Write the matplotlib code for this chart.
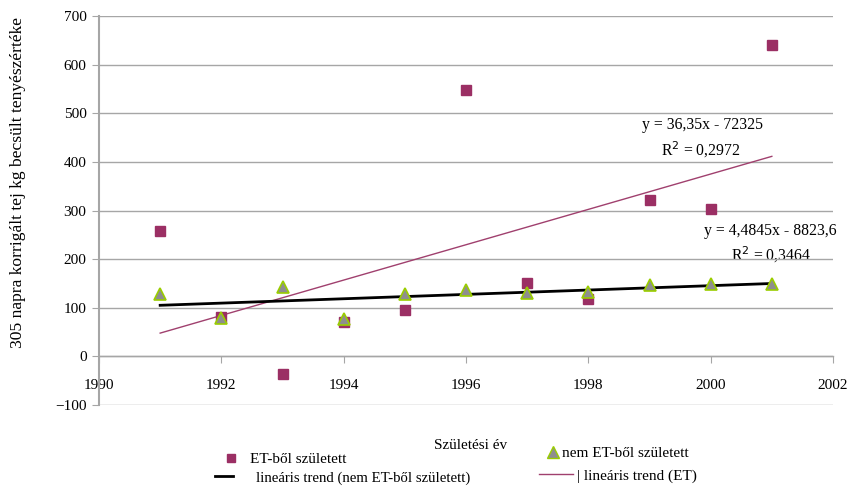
import matplotlib
matplotlib.use("Agg")
import matplotlib.pyplot as plt
from matplotlib.lines import Line2D
from matplotlib.transforms import Bbox
import numpy as np

plt.rcParams['font.family'] = ['Liberation Serif', 'DejaVu Serif']

years = [1991, 1992, 1993, 1994, 1995, 1996, 1997, 1998, 1999, 2000, 2001]
et_values = [257, 80, -37, 70, 95, 548, 150, 119, 321, 303, 640]
non_et_values = [128, 78, 142, 76, 128, 136, 130, 132, 146, 148, 149]

# trend equations (slope, intercept)
et_trend = (36.35, -72325)
non_et_trend = (4.4845, -8823.6)
et_eq = "y = 36,35x - 72325"
et_r2 = "R$^2$ = 0,2972"
non_et_eq = "y = 4,4845x - 8823,6"
non_et_r2 = "R$^2$ = 0,3464"

x_ticks = [1990, 1992, 1994, 1996, 1998, 2000, 2002]
y_ticks = [-100, 0, 100, 200, 300, 400, 500, 600, 700]

sq_color = "#9B2F64"
tri_face = "#8E8E8E"
tri_edge = "#9ACD00"
et_line_color = "#A0406E"
grid_color = "#A6A6A6"

W, H = 849, 486
fig = plt.figure(figsize=(W / 100, H / 100), dpi=100)
ax = fig.add_axes([99 / W, 81 / H, 734 / W, 389 / H])

ax.set_xlim(1990, 2002)
ax.set_ylim(-100, 700)
ax.set_xticks(x_ticks)
ax.set_yticks(y_ticks)

ax.grid(axis='y', color=grid_color, linewidth=1)
ax.set_axisbelow(True)

for s in ['top', 'right']:
    ax.spines[s].set_visible(False)
ax.spines['left'].set_color(grid_color)
ax.spines['left'].set_linewidth(1.5)
ax.spines['bottom'].set_position(('data', 0))
ax.spines['bottom'].set_color(grid_color)
ax.spines['bottom'].set_linewidth(1)

ax.tick_params(axis='y', direction='out', length=5, color=grid_color,
               labelsize=11, pad=4)
ax.tick_params(axis='x', direction='out', length=5, color=grid_color,
               labelsize=11, pad=11)

yr = np.array(years, dtype=float)
x_fit = np.array([yr.min(), yr.max()])

ax.plot(x_fit, et_trend[0] * x_fit + et_trend[1], color=et_line_color,
        linewidth=1, zorder=2)
ax.plot(x_fit, non_et_trend[0] * x_fit + non_et_trend[1], color='black',
        linewidth=2, zorder=2)

ax.plot(years, et_values, linestyle='none', marker='s', markersize=7,
        color=sq_color, markeredgecolor=sq_color, zorder=3)
ax.plot(years, non_et_values, linestyle='none', marker='^', markersize=8.5,
        markerfacecolor=tri_face, markeredgecolor=tri_edge,
        markeredgewidth=1.2, zorder=4)

ax.text(1999.86, 475, et_eq, ha='center', va='center', fontsize=11.3)
ax.text(1999.83, 425, et_r2, ha='center', va='center', fontsize=11.3)
ax.text(2000.97, 257, non_et_eq, ha='center', va='center', fontsize=11.3)
ax.text(2000.98, 209, non_et_r2, ha='center', va='center', fontsize=11.3,
        zorder=0.5)

ylab = fig.text(18 / W, 1 - 348 / H,
                "305 napra korrigált tej kg becsült tenyészértéke",
                rotation=90, ha='center', va='bottom', fontsize=12.6)
ylab.set_clip_box(Bbox.from_extents(0, 0, 60, H - 14))
ylab.set_clip_on(True)

fig.text(471 / W, 1 - 445 / H, "Születési év", ha='center',
         va='center', fontsize=11)

h_sq = Line2D([], [], linestyle='none', marker='s', markersize=6,
              color=sq_color)
h_tri = Line2D([], [], linestyle='none', marker='^', markersize=8,
               markerfacecolor=tri_face, markeredgecolor=tri_edge)
h_black = Line2D([], [], color='black', linewidth=2)
h_pink = Line2D([], [], color=et_line_color, linewidth=1)


def add_entry(handle, label, x_px, y_px, hlen, pad, size=11):
    return fig.legend([handle], [label], loc='center left',
                      bbox_to_anchor=(x_px / W, 1 - y_px / H),
                      frameon=False, fontsize=size, handlelength=hlen,
                      handletextpad=pad, borderaxespad=0, borderpad=0)


add_entry(h_sq, "ET-ből született", 222, 459, 1.2, 0.6)
add_entry(h_black, "lineáris trend (nem ET-ből született)", 215, 478, 1.2,
          1.6, size=10.6)
add_entry(h_tri, "nem ET-ből született", 545, 453, 1.0, 0.1)
add_entry(h_pink, "| lineáris trend (ET)", 539, 476, 2.2, 0.3)

fig.savefig("out.png", dpi=100)
